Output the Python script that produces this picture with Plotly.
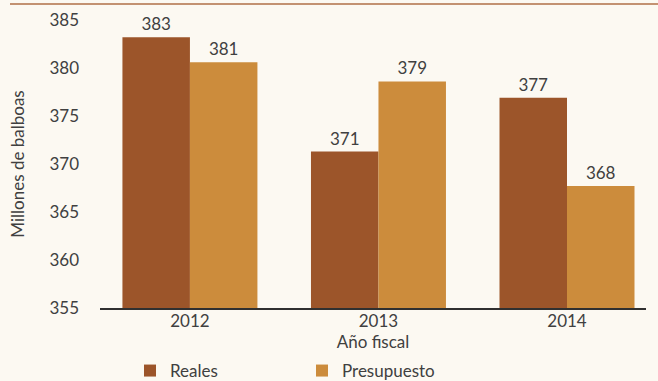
import plotly.graph_objects as go

# Datos del gráfico (millones de balboas)
anios = ["2012", "2013", "2014"]
reales = [383.2, 371.3, 376.9]
presupuesto = [380.6, 378.6, 367.7]
y_ticks = [355, 360, 365, 370, 375, 380, 385]

color_reales = "#9C552A"
color_presupuesto = "#CC8C3C"
fondo = "#FCF9F2"
texto = "#404040"
fuente = "Lato"
tam = 17

W, H = 658, 381

fig = go.Figure()
fig.add_trace(go.Bar(
    x=anios, y=reales, name="Reales",
    marker=dict(color=color_reales, line=dict(width=0)),
    texttemplate="%{y:.0f}", textposition="outside",
    textfont=dict(color=texto, size=tam, family=fuente),
    cliponaxis=False,
))
fig.add_trace(go.Bar(
    x=anios, y=presupuesto, name="Presupuesto",
    marker=dict(color=color_presupuesto, line=dict(width=0)),
    texttemplate="%{y:.0f}", textposition="outside",
    textfont=dict(color=texto, size=tam, family=fuente),
    cliponaxis=False,
))

fig.update_layout(
    width=W, height=H,
    margin=dict(l=100, r=12, t=20, b=73, pad=0, autoexpand=False),
    paper_bgcolor=fondo, plot_bgcolor=fondo,
    barmode="group", bargap=0.284, bargroupgap=0,
    font=dict(family=fuente, size=tam, color=texto),
    showlegend=True,
    legend=dict(
        orientation="h", xref="container", yref="container",
        x=130 / W, xanchor="left", y=1 - 353 / H, yanchor="top",
        entrywidth=127, entrywidthmode="pixels",
        font=dict(size=tam, color=texto, family=fuente),
        bgcolor="rgba(0,0,0,0)",
    ),
    xaxis=dict(
        type="category", range=[-0.477, 2.419],
        showline=True, linecolor="#303030", linewidth=1.5,
        ticks="", showgrid=False, zeroline=False,
        ticklabelstandoff=-3,
        tickfont=dict(size=tam, color=texto, family=fuente),
        title=dict(text="Año fiscal", standoff=4,
                   font=dict(size=tam, color=texto, family=fuente)),
    ),
    yaxis=dict(
        range=[355, 385], tickvals=y_ticks,
        showline=False, showgrid=False, zeroline=False, ticks="",
        ticklabelstandoff=20,
        tickfont=dict(size=tam, color=texto, family=fuente),
        title=dict(text="Millones de balboas", standoff=20,
                   font=dict(size=tam, color=texto, family=fuente)),
    ),
    shapes=[dict(
        type="line", xref="paper", yref="paper",
        x0=-90 / 546, x1=1 + 12 / 546, y0=1 + 16 / 288, y1=1 + 16 / 288,
        line=dict(color="#C39272", width=2),
    )],
)

fig.write_html("out.html")
